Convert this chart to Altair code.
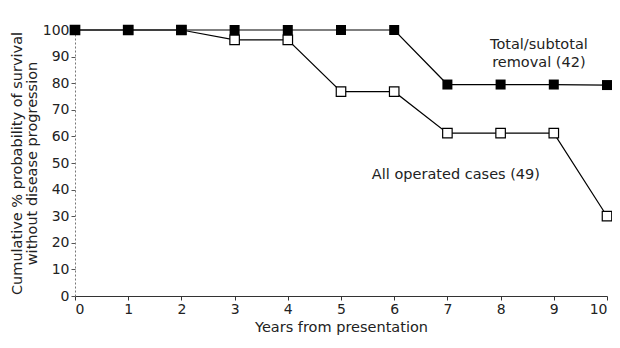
import altair as alt
import pandas as pd

years = [0, 1, 2, 3, 4, 5, 6, 7, 8, 9, 10]
total_removal = [100, 100, 100, 100, 100, 100, 100, 79.5, 79.5, 79.5, 79.3]
all_operated = [100, 100, 100, 96.3, 96.3, 76.8, 76.8, 61.2, 61.2, 61.2, 30]

labels_text = ["Total/subtotal", "removal (42)", "All operated cases (49)"]
labels_x = [8.72, 8.72, 7.16]
labels_y = [94.2, 87.6, 45.5]

FONT = "DejaVu Sans"

df = pd.DataFrame({
    "year": years * 2,
    "value": total_removal + all_operated,
    "series": ["Total/subtotal removal (42)"] * len(years) + ["All operated cases (49)"] * len(years),
})
df_all = df[df.series == "All operated cases (49)"]
df_tot = df[df.series == "Total/subtotal removal (42)"]
lab = pd.DataFrame({"t": labels_text, "year": labels_x, "value": labels_y})

xscale = alt.Scale(domain=[0, 10], nice=False, zero=False)
yscale = alt.Scale(domain=[0, 100], nice=False)

x = alt.X("year:Q", scale=xscale,
          axis=alt.Axis(values=years, title="Years from presentation", grid=False,
                        labelFont=FONT, labelFontSize=14, labelColor="#222", labelOverlap=False,
                        titleFont=FONT, titleFontSize=14.5, titleFontWeight="normal", titleColor="#222",
                        titlePadding=4, tickSize=4, domainColor="#333", tickColor="#333", labelPadding=2))
y = alt.Y("value:Q", scale=yscale,
          axis=alt.Axis(values=list(range(0, 101, 10)), grid=False, labelOverlap=False,
                        title=["Cumulative % probability of survival", "without disease progression"],
                        labelFont=FONT, labelFontSize=14, labelColor="#222",
                        titleFont=FONT, titleFontSize=14.5, titleFontWeight="normal", titleColor="#222",
                        titlePadding=3, titleLineHeight=15, tickSize=4, domainColor="#777",
                        domainDash=[2, 2], tickColor="#555", labelPadding=2))

line_all = alt.Chart(df_all).mark_line(color="black", strokeWidth=1.2).encode(x=x, y=y)
line_tot = alt.Chart(df_tot).mark_line(color="black", strokeWidth=1.2).encode(x=x, y=y)
pts_all = alt.Chart(df_all).mark_square(size=90, filled=True, fill="white", stroke="black",
                                        strokeWidth=1.2, opacity=1).encode(x=x, y=y)
pts_tot = alt.Chart(df_tot).mark_square(size=100, filled=True, color="black", opacity=1).encode(x=x, y=y)
text = alt.Chart(lab).mark_text(font=FONT, fontSize=14.5, color="#222").encode(
    x=x, y=y, text="t:N")

chart = alt.layer(line_all, line_tot, pts_all, pts_tot, text).properties(
    width=532, height=266,
    autosize=alt.AutoSizeParams(type="none"),
    padding={"left": 67, "top": 22, "right": 5, "bottom": 44},
).configure_view(stroke=None)

chart.save("out.html", embed_options={"renderer": "svg", "actions": False})
